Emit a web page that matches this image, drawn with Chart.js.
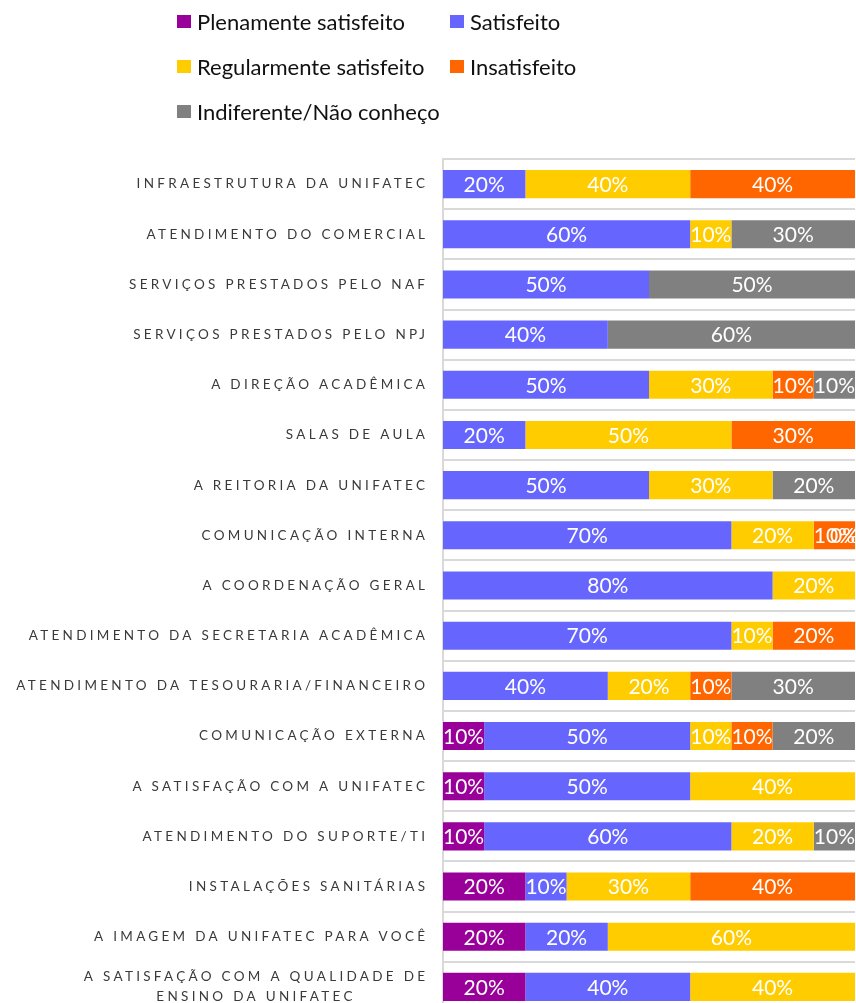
<!DOCTYPE html>
<html>
<head>
<meta charset="utf-8">
<script src="https://cdn.jsdelivr.net/npm/chart.js@4.4.1/dist/chart.umd.min.js"></script>
<style>
  html, body { margin: 0; padding: 0; background: #fff; overflow: hidden; }
  #wrap { position: relative; width: 856px; height: 1003px; overflow: hidden; }
  #c { position: absolute; left: 0; top: 0; }
  .lg { position: absolute; display: flex; align-items: center; font-family: Lato, "Open Sans", sans-serif; font-size: 22px; color: #111; white-space: nowrap; height: 24px; }
  .lg span.sw { display: inline-block; width: 14px; height: 13px; margin-right: 6px; }
</style>
</head>
<body>
<div id="wrap">
  <canvas id="c" width="856" height="1013"></canvas>
</div>
<script>
const categories = [
  "INFRAESTRUTURA DA UNIFATEC",
  "ATENDIMENTO DO COMERCIAL",
  "SERVIÇOS PRESTADOS PELO NAF",
  "SERVIÇOS PRESTADOS PELO NPJ",
  "A DIREÇÃO ACADÊMICA",
  "SALAS DE AULA",
  "A REITORIA DA UNIFATEC",
  "COMUNICAÇÃO INTERNA",
  "A COORDENAÇÃO GERAL",
  "ATENDIMENTO DA SECRETARIA ACADÊMICA",
  "ATENDIMENTO DA TESOURARIA/FINANCEIRO",
  "COMUNICAÇÃO EXTERNA",
  "A SATISFAÇÃO COM A UNIFATEC",
  "ATENDIMENTO DO SUPORTE/TI",
  "INSTALAÇÕES SANITÁRIAS",
  "A IMAGEM DA UNIFATEC PARA VOCÊ",
  ["A SATISFAÇÃO COM A QUALIDADE DE", "ENSINO DA UNIFATEC"]
];
const seriesNames = ["Plenamente satisfeito", "Satisfeito", "Regularmente satisfeito", "Insatisfeito", "Indiferente/Não conheço"];
const plenamente   = [null, null, null, null, null, null, null, null, null, null, null, 10, 10, 10, 20, 20, 20];
const satisfeito   = [20, 60, 50, 40, 50, 20, 50, 70, 80, 70, 40, 50, 50, 60, 10, 20, 40];
const regularmente = [40, 10, null, null, 30, 50, 30, 20, 20, 10, 20, 10, 40, 20, 30, 60, 40];
const insatisfeito = [40, null, null, null, 10, 30, null, 10, null, 20, 10, 10, null, null, 40, null, null];
const indiferente  = [null, 30, 50, 60, 10, null, 20, 0, null, null, 30, 20, null, 10, null, null, null];
const seriesColors = ["#990099", "#6666FF", "#FFCC00", "#FF6600", "#808080"];
const seriesValues = [plenamente, satisfeito, regularmente, insatisfeito, indiferente];

// HTML legend (two columns)
const legendPos = [[177, 9], [450, 9], [177, 54], [450, 54], [177, 99]];
const wrap = document.getElementById('wrap');
seriesNames.forEach((n, i) => {
  const d = document.createElement('div');
  d.className = 'lg';
  d.style.left = legendPos[i][0] + 'px';
  d.style.top = legendPos[i][1] + 'px';
  d.innerHTML = '<span class="sw" style="background:' + seriesColors[i] + '"></span>' + n;
  wrap.appendChild(d);
});

const labelsPlugin = {
  id: 'barLabels',
  afterDatasetsDraw(chart) {
    const ctx = chart.ctx;
    const area = chart.chartArea;
    ctx.save();
    ctx.font = '21px Lato, "Open Sans", sans-serif';
    ctx.fillStyle = '#ffffff';
    ctx.textAlign = 'center';
    ctx.textBaseline = 'middle';
    chart.data.datasets.forEach((ds, di) => {
      const meta = chart.getDatasetMeta(di);
      meta.data.forEach((el, i) => {
        const v = ds.data[i];
        if (v === null || v === undefined) return;
        const t = v + '%';
        const w = ctx.measureText(t).width;
        let x = (el.x + el.base) / 2;
        x = Math.min(x, area.right - w / 2 + 4);
        x = Math.max(x, area.left + w / 2);
        ctx.fillText(t, x, el.y + 1);
      });
    });
    ctx.restore();
  }
};

const yLabelsPlugin = {
  id: 'yLabels',
  afterDraw(chart) {
    const ctx = chart.ctx;
    const ys = chart.scales.y;
    ctx.save();
    ctx.font = '13.5px Lato, "Open Sans", sans-serif';
    ctx.fillStyle = '#3a3a3a';
    ctx.textBaseline = 'middle';
    const sp = 3.3;
    ctx.letterSpacing = sp + 'px';
    const rightX = 425 + sp;
    categories.forEach((c, i) => {
      const y = ys.getPixelForTick(i);
      if (Array.isArray(c)) {
        const widths = c.map(s => ctx.measureText(s).width);
        const maxW = Math.max(...widths);
        const cx = rightX - maxW / 2;
        ctx.textAlign = 'center';
        c.forEach((s, k) => {
          ctx.fillText(s, cx, y - 10 + k * 20);
        });
      } else {
        ctx.textAlign = 'right';
        ctx.fillText(c, rightX, y);
      }
    });
    ctx.restore();
  }
};

new Chart(document.getElementById('c'), {
  type: 'bar',
  data: {
    labels: categories,
    datasets: seriesNames.map((n, i) => ({
      label: n,
      data: seriesValues[i],
      backgroundColor: seriesColors[i],
      borderWidth: 0,
      barPercentage: 1.0,
      categoryPercentage: 0.56
    }))
  },
  options: {
    responsive: false,
    animation: false,
    indexAxis: 'y',
    layout: { padding: { top: 159, right: 1, bottom: 1, left: 0 } },
    plugins: {
      legend: { display: false },
      tooltip: { enabled: false }
    },
    scales: {
      x: {
        stacked: true,
        min: 0,
        max: 100,
        display: false
      },
      y: {
        stacked: true,
        afterFit(scale) { scale.width = 443; },
        ticks: { display: false },
        grid: { offset: true, color: '#d9d9d9', lineWidth: 2, drawTicks: false },
        border: { color: '#d9d9d9', width: 2 }
      }
    }
  },
  plugins: [labelsPlugin, yLabelsPlugin]
});
</script>
</body>
</html>
